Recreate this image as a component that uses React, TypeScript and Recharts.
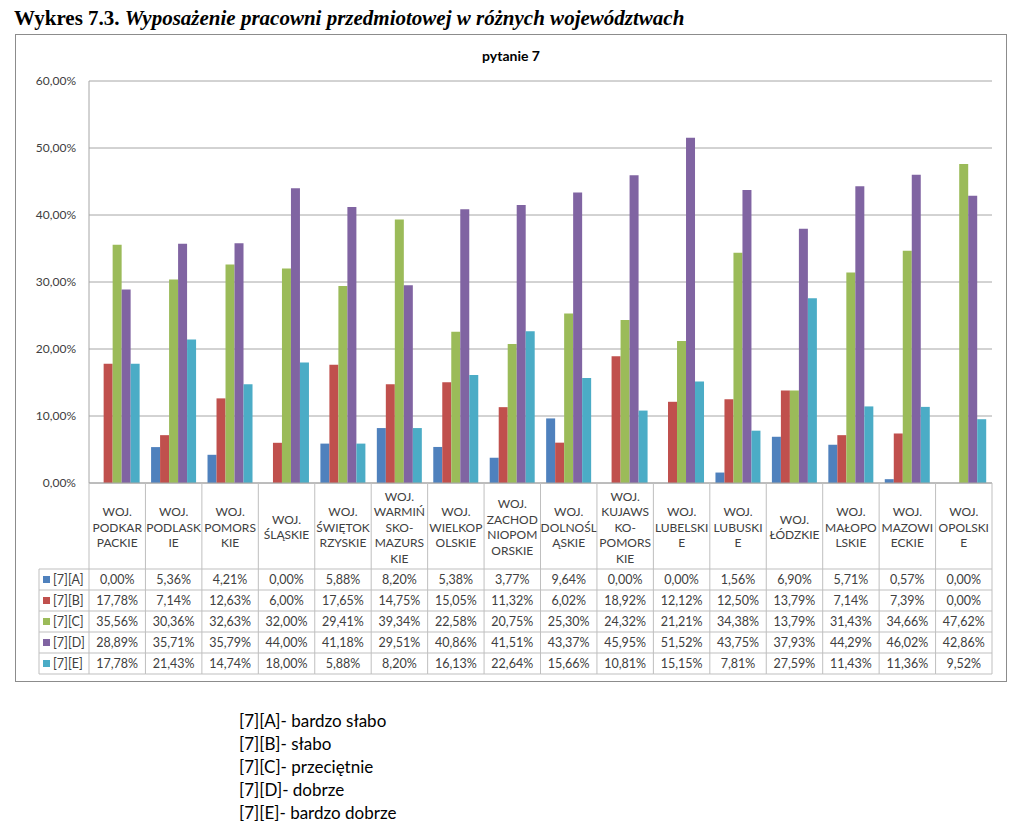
import React from 'react';
import { BarChart, Bar, XAxis, YAxis, CartesianGrid } from 'recharts';

// województwa, header text already split the way the original table wraps it
const CATEGORIES = [
  'WOJ.|PODKAR|PACKIE',
  'WOJ.|PODLASK|IE',
  'WOJ.|POMORS|KIE',
  'WOJ.|ŚLĄSKIE',
  'WOJ.|ŚWIĘTOK|RZYSKIE',
  'WOJ.|WARMIŃ|SKO-|MAZURS|KIE',
  'WOJ.|WIELKOP|OLSKIE',
  'WOJ.|ZACHOD|NIOPOM|ORSKIE',
  'WOJ.|DOLNOŚL|ĄSKIE',
  'WOJ.|KUJAWS|KO-|POMORS|KIE',
  'WOJ.|LUBELSKI|E',
  'WOJ.|LUBUSKI|E',
  'WOJ.|ŁÓDZKIE',
  'WOJ.|MAŁOPO|LSKIE',
  'WOJ.|MAZOWI|ECKIE',
  'WOJ.|OPOLSKI|E',
];

const A = [0.0, 5.36, 4.21, 0.0, 5.88, 8.2, 5.38, 3.77, 9.64, 0.0, 0.0, 1.56, 6.9, 5.71, 0.57, 0.0];
const B = [17.78, 7.14, 12.63, 6.0, 17.65, 14.75, 15.05, 11.32, 6.02, 18.92, 12.12, 12.5, 13.79, 7.14, 7.39, 0.0];
const C = [35.56, 30.36, 32.63, 32.0, 29.41, 39.34, 22.58, 20.75, 25.3, 24.32, 21.21, 34.38, 13.79, 31.43, 34.66, 47.62];
const D = [28.89, 35.71, 35.79, 44.0, 41.18, 29.51, 40.86, 41.51, 43.37, 45.95, 51.52, 43.75, 37.93, 44.29, 46.02, 42.86];
const E = [17.78, 21.43, 14.74, 18.0, 5.88, 8.2, 16.13, 22.64, 15.66, 10.81, 15.15, 7.81, 27.59, 11.43, 11.36, 9.52];

const SERIES_KEYS = ['a', 'b', 'c', 'd', 'e'];
const SERIES_NAMES = ['[7][A]', '[7][B]', '[7][C]', '[7][D]', '[7][E]'];
const SERIES_VALUES = [A, B, C, D, E];
const COLORS = ['#4F81BD', '#C0504D', '#9BBB59', '#8064A2', '#4BACC6'];

const Y_TICKS = [0, 10, 20, 30, 40, 50, 60];

const LEGEND_NOTES = [
  '[7][A]- bardzo słabo',
  '[7][B]- słabo',
  '[7][C]- przeciętnie',
  '[7][D]- dobrze',
  '[7][E]- bardzo dobrze',
];

const data = CATEGORIES.map((name, i) => {
  const row: Record<string, string | number> = { name };
  SERIES_KEYS.forEach((k, s) => {
    row[k] = SERIES_VALUES[s][i];
  });
  return row;
});

const FONT = 'Lato, "Open Sans", sans-serif';
const TEXT = '#404040';
const GRID = '#a6a6a6';
const TABLE_LINE = '#bfbfbf';

const CHART_W = 992;
const CHART_H = 648;
const Y_W = 74;
const M_RIGHT = 15;
const COL_W = (CHART_W - Y_W - M_RIGHT) / CATEGORIES.length;
const HEADER_H = 86;
const ROW_H = 21;
const TABLE_H = HEADER_H + ROW_H * SERIES_KEYS.length;
const KEY_W = 50;

const pct = (v: number) => `${v.toFixed(2).replace('.', ',')}%`;

const TableColumn = (props: any) => {
  const { x, y, payload } = props;
  const i = payload.index;
  const left = x - COL_W / 2;
  const right = x + COL_W / 2;
  const bottom = y + TABLE_H;
  const lines = String(payload.value).split('|');
  const lineH = 15.5;
  const headMid = y + 44;
  const first = headMid - ((lines.length - 1) / 2) * lineH;

  return (
    <g>
      <line x1={left} y1={y} x2={left} y2={bottom} stroke={TABLE_LINE} />
      {i === CATEGORIES.length - 1 && <line x1={right} y1={y} x2={right} y2={bottom} stroke={TABLE_LINE} />}
      {SERIES_KEYS.concat(['end']).map((_, k) => (
        <line
          key={`h-${k}`}
          x1={i === 0 ? left - KEY_W : left}
          y1={y + HEADER_H + k * ROW_H}
          x2={right}
          y2={y + HEADER_H + k * ROW_H}
          stroke={TABLE_LINE}
        />
      ))}
      {lines.map((t, k) => (
        <text
          key={`l-${k}`}
          x={x}
          y={first + k * lineH}
          textAnchor="middle"
          dominantBaseline="central"
          fontSize={12}
          fontFamily={FONT}
          fill={TEXT}
        >
          {t}
        </text>
      ))}
      {SERIES_VALUES.map((vals, s) => (
        <text
          key={`v-${s}`}
          x={x}
          y={y + HEADER_H + ROW_H * (s + 0.5)}
          textAnchor="middle"
          dominantBaseline="central"
          fontSize={12.5}
          fontFamily={FONT}
          fill={TEXT}
        >
          {pct(vals[i])}
        </text>
      ))}
      {i === 0 && (
        <g>
          <line x1={left - KEY_W} y1={y + HEADER_H} x2={left - KEY_W} y2={bottom} stroke={TABLE_LINE} />
          {SERIES_NAMES.map((n, s) => (
            <g key={`k-${s}`}>
              <rect
                x={left - KEY_W + 4}
                y={y + HEADER_H + ROW_H * (s + 0.5) - 3.5}
                width={7}
                height={7}
                fill={COLORS[s]}
              />
              <text
                x={left - KEY_W + 14}
                y={y + HEADER_H + ROW_H * (s + 0.5)}
                dominantBaseline="central"
                fontSize={12.5}
                fontFamily={FONT}
                fill={TEXT}
              >
                {n}
              </text>
            </g>
          ))}
        </g>
      )}
    </g>
  );
};

const App = () => {
  return (
    <div style={{ position: 'absolute', left: 0, top: 0, width: 1024, height: 830, background: '#fff' }}>
      <div
        style={{
          position: 'absolute',
          left: 14,
          top: 6,
          fontFamily: '"Liberation Serif", "Times New Roman", serif',
          fontWeight: 'bold',
          fontSize: 21,
          whiteSpace: 'nowrap',
          color: '#000',
        }}
      >
        Wykres 7.3. <i>Wyposażenie pracowni przedmiotowej w różnych województwach</i>
      </div>
      <div
        style={{
          position: 'absolute',
          left: 15,
          top: 34,
          width: CHART_W,
          height: CHART_H,
          boxSizing: 'border-box',
          border: '1px solid #8c8c8c',
        }}
      />
      <div
        style={{
          position: 'absolute',
          left: 15,
          top: 47,
          width: CHART_W,
          textAlign: 'center',
          fontFamily: FONT,
          fontWeight: 'bold',
          fontSize: 14,
          color: '#000',
        }}
      >
        pytanie 7
      </div>
      <div style={{ position: 'absolute', left: 15, top: 34 }}>
        <BarChart
          width={CHART_W}
          height={CHART_H}
          data={data}
          margin={{ top: 47, right: M_RIGHT, bottom: 8, left: 0 }}
          barCategoryGap="10%"
          barGap={0}
        >
          <CartesianGrid vertical={false} stroke={GRID} />
          <XAxis
            dataKey="name"
            interval={0}
            height={TABLE_H}
            tickSize={0}
            tickMargin={0}
            tickLine={false}
            axisLine={{ stroke: GRID }}
            tick={<TableColumn />}
          />
          <YAxis
            width={Y_W}
            domain={[0, 60]}
            ticks={Y_TICKS}
            tickFormatter={pct}
            tickLine={false}
            tickSize={0}
            tickMargin={13}
            axisLine={{ stroke: GRID }}
            tick={{ fontSize: 12, fontFamily: FONT, fill: TEXT }}
          />
          {SERIES_KEYS.map((k, s) => (
            <Bar key={k} dataKey={k} name={SERIES_NAMES[s]} fill={COLORS[s]} isAnimationActive={false} />
          ))}
        </BarChart>
      </div>
      <div
        style={{
          position: 'absolute',
          left: 239,
          top: 709,
          fontFamily: FONT,
          fontSize: 17,
          lineHeight: '23px',
          color: '#000',
        }}
      >
        {LEGEND_NOTES.map((t) => (
          <div key={t}>{t}</div>
        ))}
      </div>
    </div>
  );
};

export default App;
